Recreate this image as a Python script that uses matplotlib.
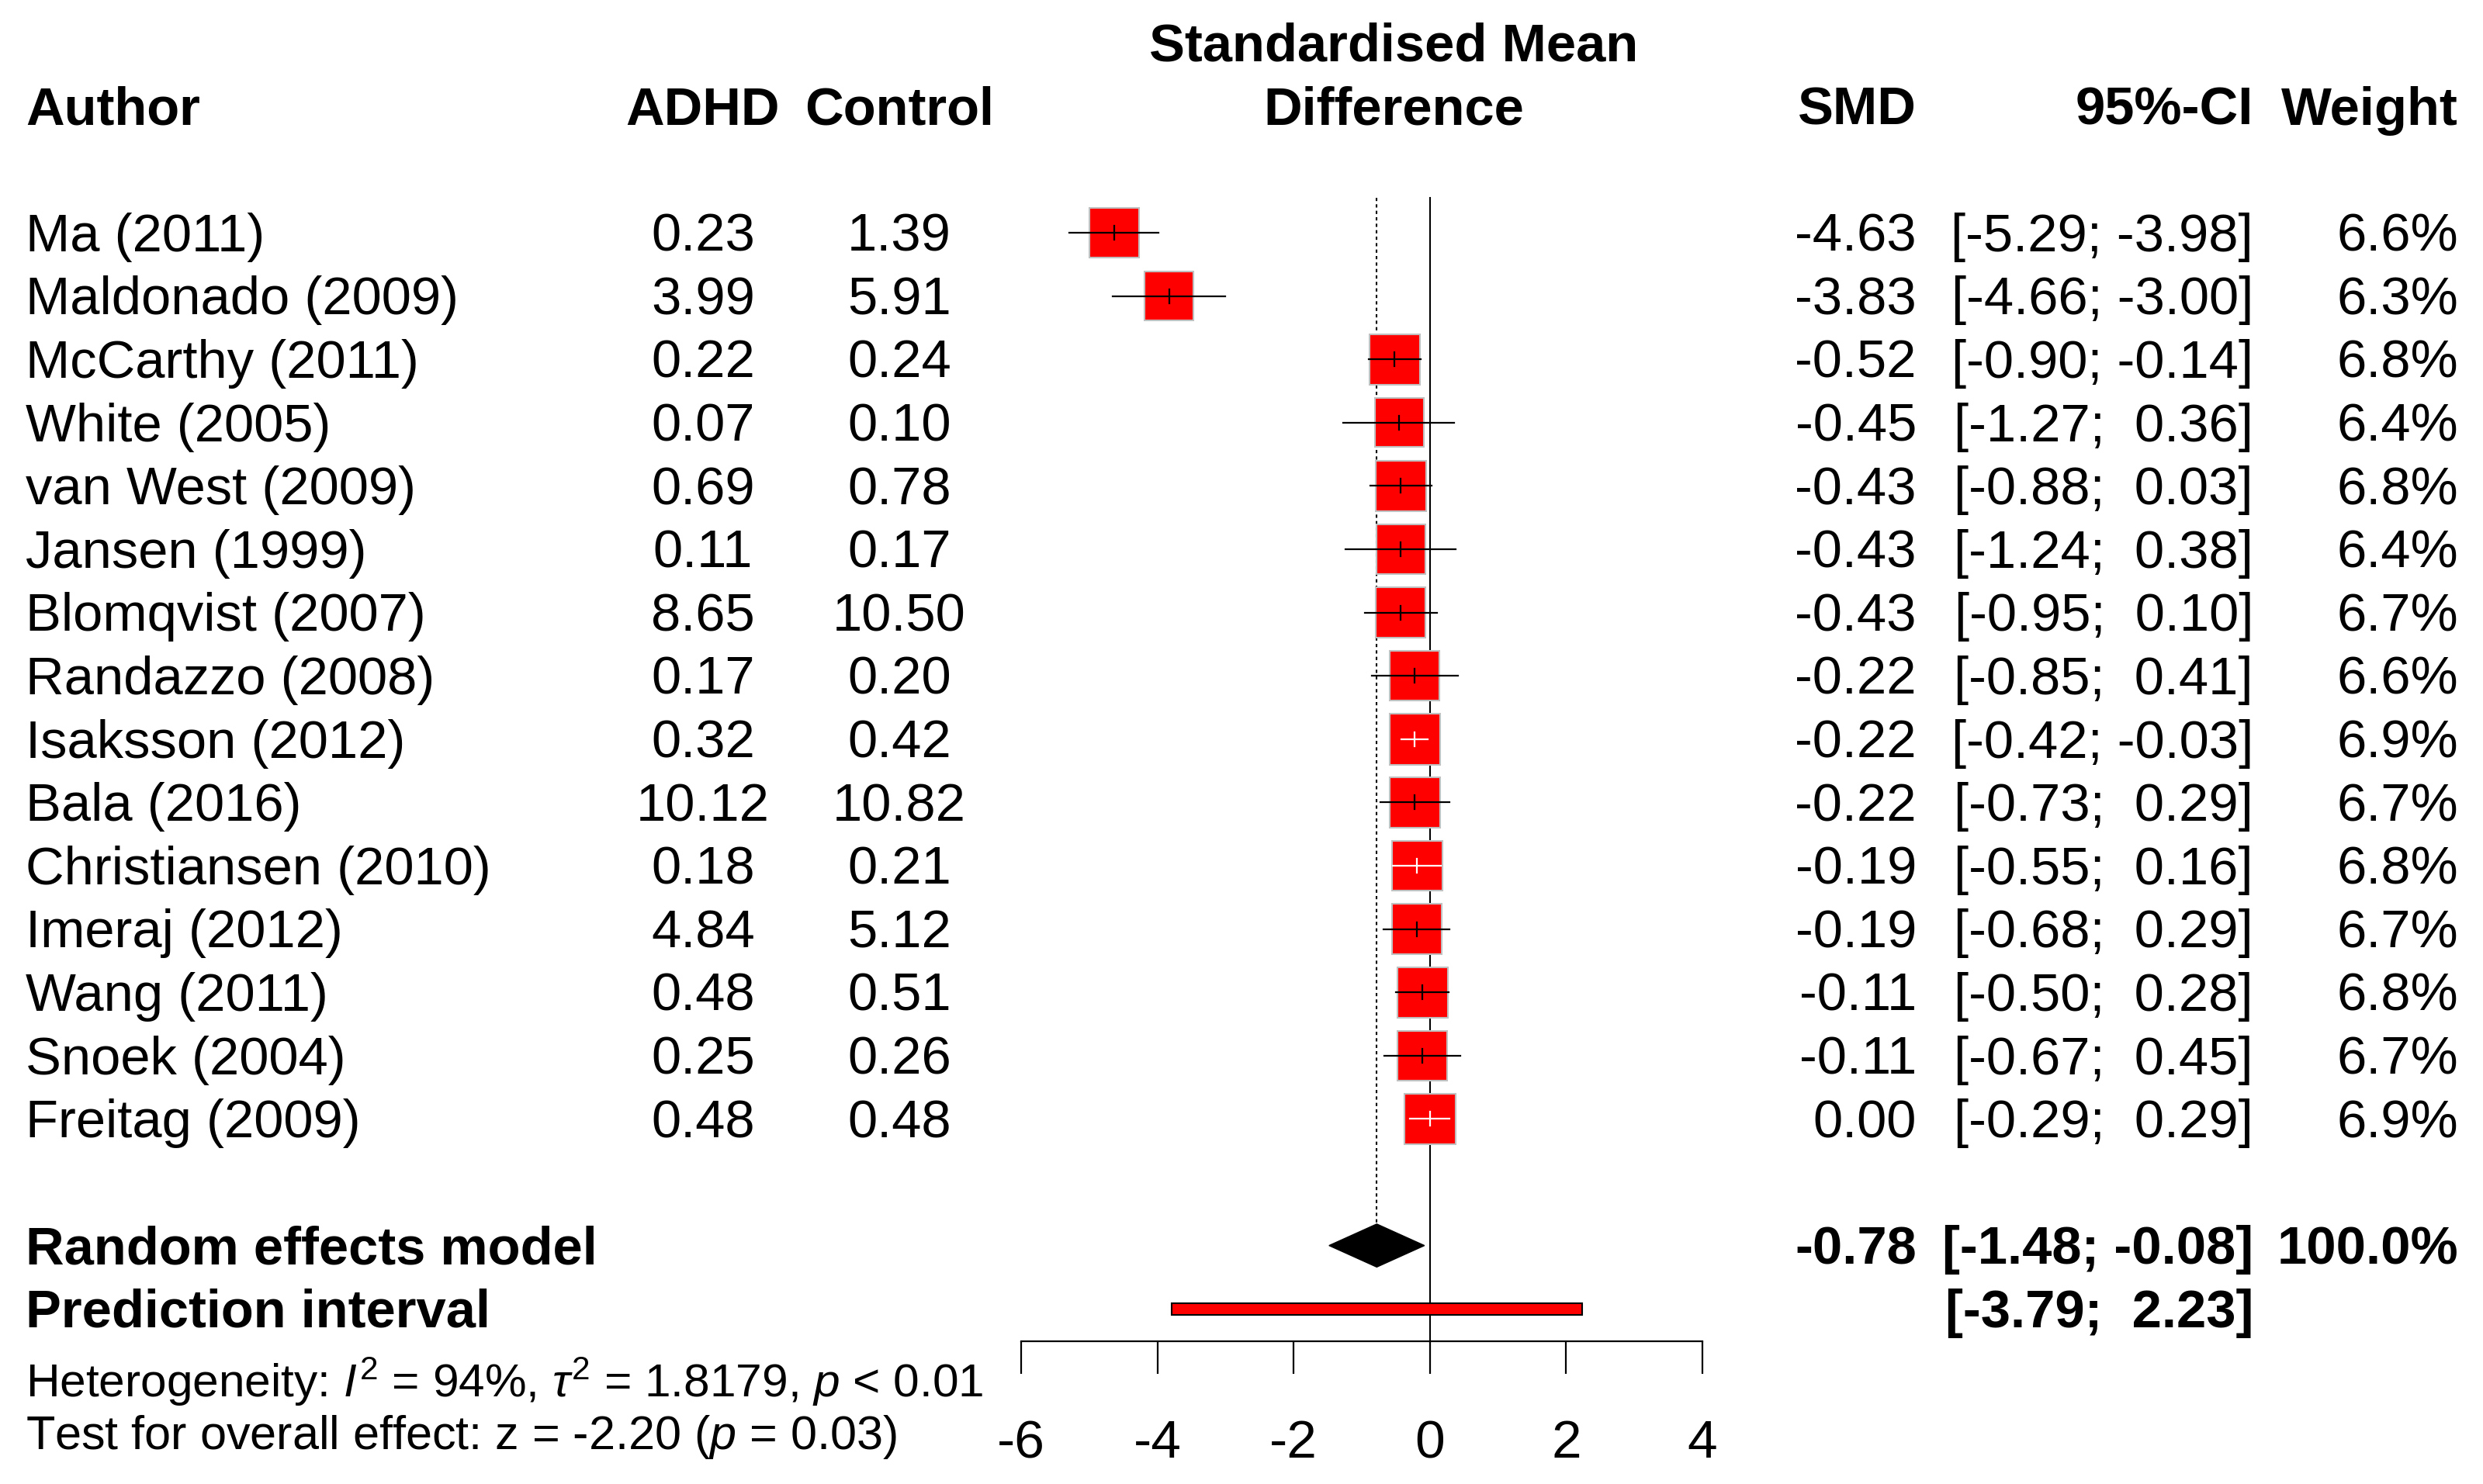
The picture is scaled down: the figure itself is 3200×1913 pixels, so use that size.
import matplotlib
matplotlib.use("Agg")
import matplotlib.pyplot as plt
from matplotlib import transforms
from matplotlib.patches import Rectangle, Polygon

plt.rcParams['font.family'] = ['Liberation Sans', 'DejaVu Sans']
plt.rcParams['mathtext.fontset'] = 'custom'
plt.rcParams['mathtext.rm'] = 'Liberation Sans'
plt.rcParams['mathtext.it'] = 'Liberation Sans:italic'

# study data
authors = ["Ma (2011)", "Maldonado (2009)", "McCarthy (2011)", "White (2005)",
           "van West (2009)", "Jansen (1999)", "Blomqvist (2007)", "Randazzo (2008)",
           "Isaksson (2012)", "Bala (2016)", "Christiansen (2010)", "Imeraj (2012)",
           "Wang (2011)", "Snoek (2004)", "Freitag (2009)"]
adhd = ["0.23", "3.99", "0.22", "0.07", "0.69", "0.11", "8.65", "0.17",
        "0.32", "10.12", "0.18", "4.84", "0.48", "0.25", "0.48"]
control = ["1.39", "5.91", "0.24", "0.10", "0.78", "0.17", "10.50", "0.20",
           "0.42", "10.82", "0.21", "5.12", "0.51", "0.26", "0.48"]
smd = [-4.63, -3.83, -0.52, -0.45, -0.43, -0.43, -0.43, -0.22,
       -0.22, -0.22, -0.19, -0.19, -0.11, -0.11, 0.00]
ci_lo = [-5.29, -4.66, -0.90, -1.27, -0.88, -1.24, -0.95, -0.85,
         -0.42, -0.73, -0.55, -0.68, -0.50, -0.67, -0.29]
ci_hi = [-3.98, -3.00, -0.14, 0.36, 0.03, 0.38, 0.10, 0.41,
         -0.03, 0.29, 0.16, 0.29, 0.28, 0.45, 0.29]
weight = [6.6, 6.3, 6.8, 6.4, 6.8, 6.4, 6.7, 6.6,
          6.9, 6.7, 6.8, 6.7, 6.8, 6.7, 6.9]

re_est, re_lo, re_hi = -0.78, -1.48, -0.08
pi_lo, pi_hi = -3.79, 2.23
xticks = [-6, -4, -2, 0, 2, 4]

W, H = 3200, 1913
fig = plt.figure(figsize=(W / 100, H / 100), dpi=100)

# forest axes: x in SMD units, y in rows (1 = first study)
ax_left, ax_right, ax_bottom = 1316, 2194, 1729
row0, row_h = 300, 81.6
ax = fig.add_axes([ax_left / W, (H - ax_bottom) / H, (ax_right - ax_left) / W, ax_bottom / H])
ax.set_xlim(-6, 4)
ax.set_ylim(1 + (ax_bottom - row0) / row_h, 1 - row0 / row_h)
ax.patch.set_visible(False)
for s in ['top', 'left', 'right']:
    ax.spines[s].set_visible(False)
ax.spines['bottom'].set_linewidth(1.6)
ax.set_yticks([])
ax.set_xticks(xticks)
ax.set_xticklabels([str(t) for t in xticks])
ax.tick_params(axis='x', length=30, width=1.6, pad=42, labelsize=50)

px_per_x = (ax_right - ax_left) / 10.0
n = len(authors)
rows = list(range(1, n + 1))
re_row = n + 2
pi_row = n + 3

# reference lines
ax.plot([0, 0], [0.45, ax.get_ylim()[0]], color='black', lw=1.5, clip_on=False)
ax.plot([re_est, re_est], [0.45, re_row - 0.34], color='black', lw=1.5,
        linestyle=(0, (2, 2)), clip_on=False)

# study squares and CIs
base = 64.0 / (6.6 ** 0.5)
for r, m, lo, hi, w in zip(rows, smd, ci_lo, ci_hi, weight):
    size = base * w ** 0.5
    half_x = size / 2 / px_per_x
    half_y = size / 2 / row_h
    ax.add_patch(Rectangle((m - half_x, r - half_y), 2 * half_x, 2 * half_y,
                           facecolor='#ff0000', edgecolor='#c0c0c0', lw=1.5, zorder=2))
    inside = (lo >= m - half_x) and (hi <= m + half_x)
    col = 'white' if inside else 'black'
    ax.plot([lo, hi], [r, r], color=col, lw=1.6, zorder=3)
    ax.plot([m, m], [r - 0.11, r + 0.11], color=col, lw=1.6, zorder=3)

# pooled diamond
ax.add_patch(Polygon([(re_lo, re_row), (re_est, re_row - 0.34), (re_hi, re_row),
                      (re_est, re_row + 0.34)], closed=True,
                     facecolor='black', edgecolor='black', lw=1, zorder=3))
# prediction interval
ax.add_patch(Rectangle((pi_lo, pi_row - 0.09), pi_hi - pi_lo, 0.18,
                       facecolor='#ff0000', edgecolor='black', lw=1.5, zorder=3))

# text columns
tr = transforms.blended_transform_factory(fig.transFigure, ax.transData)
fs = 49.5
dy = 0.07
col_author = 33 / W
col_adhd = 906 / W
col_ctrl = 1159 / W
col_mid = 1796 / W
col_smd = 2470 / W
col_ci = 2904 / W
col_w = 3168 / W


def txt(x, y, s, ha, bold=False, size=fs):
    ax.text(x, y + dy, s, transform=tr, ha=ha, va='center', fontsize=size,
            fontweight='bold' if bold else 'normal', clip_on=False)


# headers
txt(col_author, -1, "Author", 'left', True)
txt(col_adhd, -1, "ADHD", 'center', True)
txt(col_ctrl, -1, "Control", 'center', True)
txt(col_mid, -2, "Standardised Mean", 'center', True)
txt(col_mid, -1, "Difference", 'center', True)
txt(col_smd, -1, "SMD", 'right', True)
txt(col_ci, -1, "95%-CI", 'right', True)
txt(col_w, -1, "Weight", 'right', True)

for r, a, ad, co, m, lo, hi, w in zip(rows, authors, adhd, control, smd, ci_lo, ci_hi, weight):
    txt(col_author, r, a, 'left')
    txt(col_adhd, r, ad, 'center')
    txt(col_ctrl, r, co, 'center')
    txt(col_smd, r, f"{m:.2f}", 'right')
    txt(col_ci, r, f"[{lo:5.2f}; {hi:5.2f}]", 'right')
    txt(col_w, r, f"{w:.1f}%", 'right')

txt(col_author, re_row, "Random effects model", 'left', True)
txt(col_smd, re_row, f"{re_est:.2f}", 'right', True)
txt(col_ci, re_row, f"[{re_lo:5.2f}; {re_hi:5.2f}]", 'right', True)
txt(col_w, re_row, "100.0%", 'right', True)
txt(col_author, pi_row, "Prediction interval", 'left', True)
txt(col_ci, pi_row, f"[{pi_lo:5.2f}; {pi_hi:5.2f}]", 'right', True)

txt(col_author, 19.09,
    r"Heterogeneity: $\mathit{I}^2$ = 94%, $\tau^2$ = 1.8179, $\mathit{p}$ < 0.01",
    'left', size=43.5)
txt(col_author, 19.96,
    r"Test for overall effect: z = -2.20 ($\mathit{p}$ = 0.03)", 'left', size=44)

fig.savefig("out.png", dpi=100, facecolor='white')
